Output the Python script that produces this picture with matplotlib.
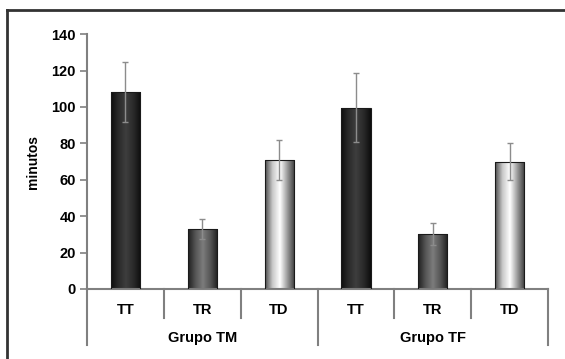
import matplotlib.pyplot as plt
import numpy as np
from matplotlib.colors import LinearSegmentedColormap
from matplotlib.lines import Line2D

plt.rcParams["font.family"] = ["Liberation Sans", "DejaVu Sans"]
plt.rcParams["font.weight"] = "bold"

# data
groups = ["Grupo TM", "Grupo TF"]
categories = ["TT", "TR", "TD", "TT", "TR", "TD"]
values = [108, 33, 71, 99.5, 30, 70]
errors = [16.5, 5.5, 11, 19, 6, 10]
y_ticks = [0, 20, 40, 60, 80, 100, 120, 140]

# cylinder-like shading per category (edge -> highlight -> edge)
shades = {
    "TT": ["#0d0d0d", "#2a2a2a", "#3e3e3e", "#2a2a2a", "#0d0d0d"],
    "TR": ["#1e1e1e", "#555555", "#7c7c7c", "#555555", "#1e1e1e"],
    "TD": ["#4a4a4a", "#c8c8c8", "#ffffff", "#9a9a9a", "#3a3a3a"],
}

fig = plt.figure(figsize=(5.65, 3.59), dpi=100)
ax = fig.add_axes([0.154, 0.195, 0.816, 0.71])

x = np.arange(len(categories))
width = 0.38
bars = ax.bar(x, values, width=width, color="none", edgecolor="#1a1a1a",
              linewidth=0.8, zorder=3)

grad = np.linspace(0, 1, 256).reshape(1, -1)
for b, cat in zip(bars, categories):
    cmap = LinearSegmentedColormap.from_list(cat, shades[cat])
    x0, y0 = b.get_x(), b.get_y()
    im = ax.imshow(grad, cmap=cmap, aspect="auto", zorder=2,
                   extent=[x0, x0 + b.get_width(), y0, y0 + b.get_height()])
    im.set_clip_path(b)

ax.errorbar(x, values, yerr=errors, fmt="none", ecolor="#8c8c8c",
            elinewidth=1.0, capsize=2, capthick=1.0, zorder=4)

ax.set_xlim(-0.5, len(categories) - 0.5)
ax.set_ylim(0, 140)
ax.set_yticks(y_ticks)
ax.tick_params(axis="y", labelsize=10.5, length=5, width=1.2, color="#808080", pad=3)
ax.set_xticks([])
ax.set_ylabel("minutos", fontsize=10, fontweight="bold", labelpad=8)

for s in ["top", "right"]:
    ax.spines[s].set_visible(False)
for s in ["left", "bottom"]:
    ax.spines[s].set_color("#808080")
    ax.spines[s].set_linewidth(1.5)

# hierarchical x axis
trans = ax.get_xaxis_transform()
for i, cat in enumerate(categories):
    ax.text(i, -0.082, cat, transform=trans, ha="center", va="center",
            fontsize=10.5, fontweight="bold")
for k in range(len(categories) + 1):
    xb = k - 0.5
    depth = -0.22 if k % 3 == 0 else -0.114
    ax.add_line(Line2D([xb, xb], [0, depth], transform=trans, color="#808080",
                       linewidth=1.5, clip_on=False))
for g, name in enumerate(groups):
    ax.text(g * 3 + 1, -0.192, name, transform=trans, ha="center", va="center",
            fontsize=10.5, fontweight="bold")

# outer frame (top and left edges)
fig.add_artist(Line2D([7 / 565, 7 / 565], [0, 1 - 10 / 359], transform=fig.transFigure,
                      color="#333333", linewidth=2))
fig.add_artist(Line2D([7 / 565, 1], [1 - 10 / 359, 1 - 10 / 359], transform=fig.transFigure,
                      color="#333333", linewidth=2))

fig.savefig("out.png", dpi=100)
